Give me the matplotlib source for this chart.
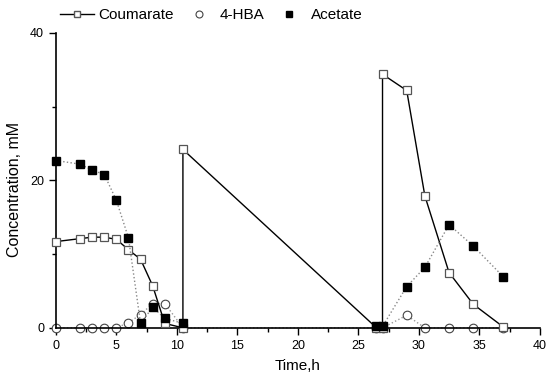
import numpy as np
import matplotlib.pyplot as plt
from matplotlib.ticker import MultipleLocator
from matplotlib.lines import Line2D

plt.rcParams['font.family'] = ['Liberation Sans', 'DejaVu Sans']

# coumarate (two feedings at 10.5 h and 27 h -> vertical jumps)
t_cou = [0, 2, 3, 4, 5, 6, 7, 8, 9, 10.5, 10.5, 26.5, 27, 27, 29, 30.5, 32.5, 34.5, 37]
cou = [11.7, 12.1, 12.3, 12.3, 12.0, 10.6, 9.3, 5.7, 0.6, 0.0, 24.2, 0.0, 0.0, 34.4, 32.2, 17.9, 7.5, 3.2, 0.1]

t_hba = [0, 2, 3, 4, 5, 6, 7, 8, 9, 10.5, 26.5, 27, 29, 30.5, 32.5, 34.5, 37]
hba = [0, 0, 0, 0, 0, 0.7, 1.8, 3.3, 3.3, 0, 0, 0, 1.7, 0, 0, 0, 0]

t_ace = [0, 2, 3, 4, 5, 6, 7, 8, 9, 10.5, 26.5, 27, 29, 30.5, 32.5, 34.5, 37]
ace = [22.7, 22.2, 21.4, 20.8, 17.3, 12.2, 0.6, 2.8, 1.3, 0.6, 0.2, 0.2, 5.6, 8.2, 14.0, 11.1, 6.9]

fig = plt.figure(figsize=(5.48, 3.79), dpi=100)
ax = fig.add_axes([0.102, 0.135, 0.883, 0.778])

ax.plot(t_cou, cou, '-', color='black', lw=1.0, marker='s', ms=6.2,
        mfc='white', mec='#555555', mew=0.9, zorder=3)
ax.plot(t_hba, hba, ':', color='#999999', lw=1.0, marker='o', ms=6.2,
        mfc='white', mec='#444444', mew=0.8, zorder=2)
# acetate: two separate runs (no line across the gap)
ax.plot(t_ace[:10], ace[:10], ':', color='#888888', lw=1.0, marker='s', ms=6,
        mfc='black', mec='black', zorder=4)
ax.plot(t_ace[10:], ace[10:], ':', color='#888888', lw=1.0, marker='s', ms=6,
        mfc='black', mec='black', zorder=4)

ax.set_xlim(0, 40)
ax.set_ylim(0, 40)
ax.xaxis.set_major_locator(MultipleLocator(5))
ax.xaxis.set_minor_locator(MultipleLocator(2.5))
ax.yaxis.set_major_locator(MultipleLocator(20))
ax.yaxis.set_minor_locator(MultipleLocator(10))
ax.tick_params(which='major', direction='out', length=5, width=1, labelsize=9)
ax.tick_params(which='minor', direction='out', length=3, width=1)
for s in ['top', 'right']:
    ax.spines[s].set_visible(False)
ax.spines['left'].set_linewidth(1.2)
ax.spines['bottom'].set_linewidth(1.2)
for p in ax.lines:
    p.set_clip_on(False)

ax.set_xlabel('Time,h', fontsize=11)
ax.set_ylabel('Concentration, mM', fontsize=11.5)
ax.xaxis.set_label_coords(0.5, -0.105)
ax.yaxis.set_label_coords(-0.07, 0.47)

handles = [
    Line2D([], [], color='black', lw=1.0, marker='s', ms=5, mfc='white', mec='#555555'),
    Line2D([], [], ls='none', marker='o', ms=5, mfc='white', mec='#444444', mew=0.8),
    Line2D([], [], ls='none', marker='s', ms=5, mfc='black', mec='black'),
]
ax.legend(handles, ['Coumarate', '4-HBA', 'Acetate'], loc='lower left',
          bbox_to_anchor=(0.0, 1.02), ncol=3, frameon=False, fontsize=11,
          handlelength=2.2, handletextpad=0.3, columnspacing=0.5,
          borderaxespad=0.1, borderpad=0.2)

fig.savefig('out.png', dpi=100)
